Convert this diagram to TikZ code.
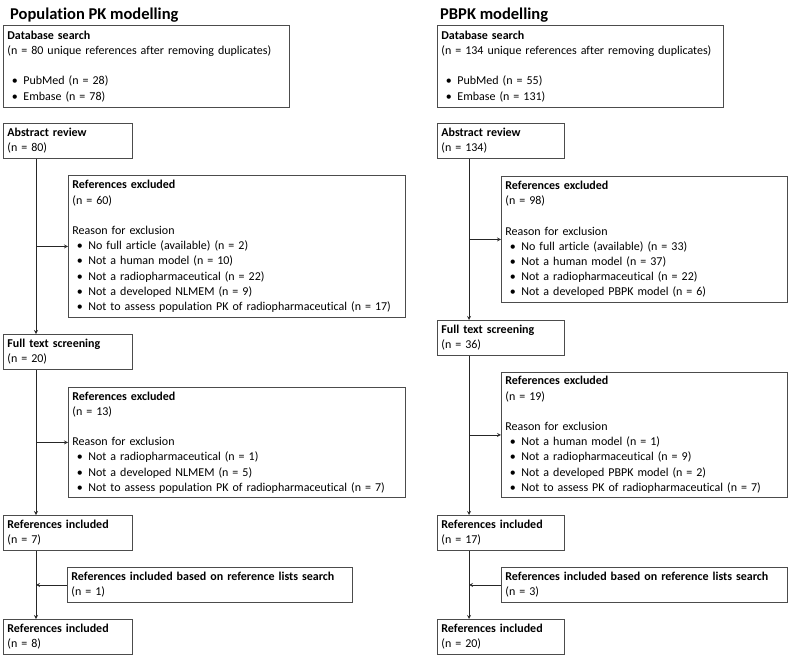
\documentclass[tikz,border=0pt]{standalone}
\usepackage{fontspec}
\setmainfont{Carlito}[Ligatures=NoCommon, Contextuals=NoAlternate]
\usetikzlibrary{arrows}
\tikzstyle{heading} = [anchor=west, inner sep=0pt, font=\fontsize{16.5}{19}\selectfont\bfseries]
\tikzstyle{box} = [rectangle, anchor=north west, draw=black!70, line width=0.8pt, inner xsep=4, inner ysep=2, align=left, font=\fontsize{12}{15.2}\selectfont]
\tikzstyle{arrow} = [line width=0.8pt, draw=black!85, ->, >=stealth]
\newcommand{\itm}[1]{\makebox[16pt][l]{\hspace{4.5pt}\textbullet}#1}

\begin{document}
\begin{tikzpicture}[x=1pt,y=-1pt]
\useasboundingbox (0,0) rectangle (791,658);
% population PK column
\node (ttlL) [heading] at (10,15) {Population PK modelling};
\node (dbL) [box, text width=278, minimum height=82] at (3,25) {\textbf{Database search}\\(n = 80 unique references after removing duplicates)\\[15.2pt]\itm{PubMed (n = 28)}\\\itm{Embase (n = 78)}};
\node (absL) [box, text width=121, minimum height=35] at (3,123) {\textbf{Abstract review}\\(n = 80)};
\node (exL1) [box, text width=329, minimum height=142] at (68,175) {\textbf{References excluded}\\(n = 60)\\[15.2pt]Reason for exclusion\\\itm{No full article (available) (n = 2)}\\\itm{Not a human model (n = 10)}\\\itm{Not a radiopharmaceutical (n = 22)}\\\itm{Not a developed NLMEM (n = 9)}\\\itm{Not to assess population PK of radiopharmaceutical (n = 17)}};
\node (ftsL) [box, text width=121, minimum height=35] at (3,334) {\textbf{Full text screening}\\(n = 20)};
\node (exL2) [box, text width=329, minimum height=110] at (68,387) {\textbf{References excluded}\\(n = 13)\\[15.2pt]Reason for exclusion\\\itm{Not a radiopharmaceutical (n = 1)}\\\itm{Not a developed NLMEM (n = 5)}\\\itm{Not to assess population PK of radiopharmaceutical (n = 7)}};
\node (incL) [box, text width=121, minimum height=35] at (3,515) {\textbf{References included}\\(n = 7)};
\node (addL) [box, text width=277, minimum height=35] at (67,567) {\textbf{References included based on reference lists search}\\(n = 1)};
\node (finL) [box, text width=121, minimum height=35] at (3,619) {\textbf{References included}\\(n = 8)};
\coordinate (trunkL) at (36,0);
\draw [arrow] (trunkL |- absL.south) -- (trunkL |- ftsL.north);
\draw [arrow] (trunkL |- exL1.west) -- (exL1.west);
\draw [arrow] (trunkL |- ftsL.south) -- (trunkL |- incL.north);
\draw [arrow] (trunkL |- exL2.west) -- (exL2.west);
\draw [arrow] (trunkL |- incL.south) -- (trunkL |- finL.north);
\draw [arrow] (addL.west) -- (trunkL |- addL.west);
% PBPK column
\node (ttlR) [heading] at (440,15) {PBPK modelling};
\node (dbR) [box, text width=278, minimum height=82] at (437,25) {\textbf{Database search}\\(n = 134 unique references after removing duplicates)\\[15.2pt]\itm{PubMed (n = 55)}\\\itm{Embase (n = 131)}};
\node (absR) [box, text width=119, minimum height=35] at (437,123) {\textbf{Abstract review}\\(n = 134)};
\node (exR1) [box, text width=278, minimum height=126] at (501,176) {\textbf{References excluded}\\(n = 98)\\[15.2pt]Reason for exclusion\\\itm{No full article (available) (n = 33)}\\\itm{Not a human model (n = 37)}\\\itm{Not a radiopharmaceutical (n = 22)}\\\itm{Not a developed PBPK model (n = 6)}};
\node (ftsR) [box, text width=119, minimum height=35] at (437,320) {\textbf{Full text screening}\\(n = 36)};
\node (exR2) [box, text width=278, minimum height=125] at (501,372) {\textbf{References excluded}\\(n = 19)\\[15.2pt]Reason for exclusion\\\itm{Not a human model (n = 1)}\\\itm{Not a radiopharmaceutical (n = 9)}\\\itm{Not a developed PBPK model (n = 2)}\\\itm{Not to assess PK of radiopharmaceutical (n = 7)}};
\node (incR) [box, text width=119, minimum height=35] at (437,515) {\textbf{References included}\\(n = 17)};
\node (addR) [box, text width=278, minimum height=35] at (501,567) {\textbf{References included based on reference lists search}\\(n = 3)};
\node (finR) [box, text width=119, minimum height=35] at (437,619) {\textbf{References included}\\(n = 20)};
\coordinate (trunkR) at (469,0);
\draw [arrow] (trunkR |- absR.south) -- (trunkR |- ftsR.north);
\draw [arrow] (trunkR |- exR1.west) -- (exR1.west);
\draw [arrow] (trunkR |- ftsR.south) -- (trunkR |- incR.north);
\draw [arrow] (trunkR |- exR2.west) -- (exR2.west);
\draw [arrow] (trunkR |- incR.south) -- (trunkR |- finR.north);
\draw [arrow] (addR.west) -- (trunkR |- addR.west);
\end{tikzpicture}
\end{document}
